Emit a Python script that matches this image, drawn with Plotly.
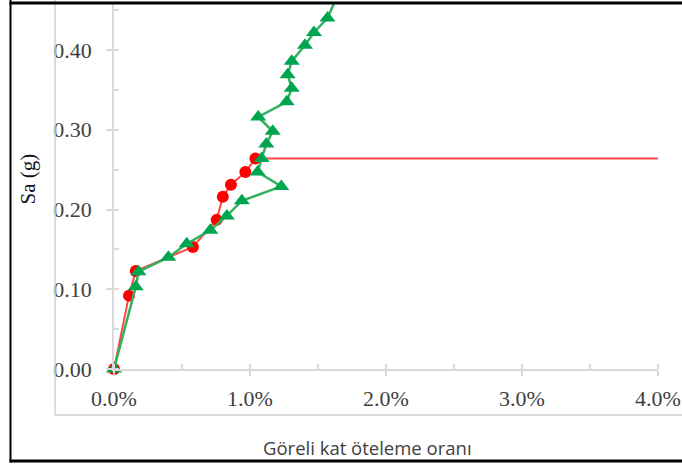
import plotly.graph_objects as go

# Data (drift ratio in %, Sa in g)
red_x = [0.0, 0.11, 0.16, 0.58, 0.755, 0.80, 0.86, 0.966, 1.04, 4.0]
red_y = [0.0, 0.092, 0.123, 0.153, 0.187, 0.216, 0.231, 0.247, 0.264, 0.264]

green_x = [0.0, 0.16, 0.18, 0.40, 0.535, 0.708, 0.83, 0.94, 1.23, 1.056, 1.086,
           1.12, 1.167, 1.06, 1.27, 1.307, 1.277, 1.307, 1.404, 1.47, 1.57, 1.66]
green_y = [0.0, 0.103, 0.122, 0.14, 0.157, 0.174, 0.192, 0.211, 0.229, 0.247, 0.264,
           0.282, 0.298, 0.316, 0.335, 0.352, 0.369, 0.386, 0.406, 0.422, 0.44, 0.475]

x_tick_vals = [0, 1, 2, 3, 4]
x_tick_text = ["0.0%", "1.0%", "2.0%", "3.0%", "4.0%"]
y_tick_vals = [0.0, 0.1, 0.2, 0.3, 0.4]

W, H = 682, 466
L, R, T, B = 114, 658, 2, 369
Y_MAX = 0.4602


def px(xp):
    return (xp - L) / (R - L)


def py(yp):
    return (B - yp) / (B - T)


fig = go.Figure()

red_sizes = [12] * (len(red_x) - 1) + [0]
fig.add_trace(go.Scatter(
    x=red_x, y=red_y, mode="lines+markers",
    line=dict(color="#ff4545", width=2),
    marker=dict(symbol="circle", size=red_sizes, color="#ff0000", opacity=1,
                line=dict(width=0)),
    cliponaxis=False, showlegend=False))

green_sizes = [14] * (len(green_x) - 1) + [0]
fig.add_trace(go.Scatter(
    x=green_x, y=green_y, mode="lines+markers",
    line=dict(color="#33b062", width=2.5),
    marker=dict(symbol="triangle-up", size=green_sizes, color="#00a64f", opacity=1,
                line=dict(width=0)),
    cliponaxis=False, showlegend=False))

tick_font = dict(family="Liberation Serif, Times New Roman, serif", size=22, color="#404040")

fig.update_xaxes(
    range=[0, 4], showgrid=False, zeroline=False,
    showline=True, linecolor="#d9d9d9", linewidth=1.5,
    tickvals=x_tick_vals, ticktext=x_tick_text,
    ticks="outside", ticklen=5, tickcolor="#d9d9d9", tickwidth=1.5,
    minor=dict(ticks="inside", ticklen=5, dtick=0.5, tick0=0, tickcolor="#d9d9d9", tickwidth=1.5, showgrid=False),
    tickfont=tick_font, ticklabelstandoff=4)

fig.update_yaxes(
    range=[0, Y_MAX], showgrid=False, zeroline=False,
    showline=True, linecolor="#d9d9d9", linewidth=1.5,
    tickvals=y_tick_vals, tickformat=".2f",
    ticks="outside", ticklen=6, tickcolor="#d9d9d9", tickwidth=1.5,
    minor=dict(ticks="inside", ticklen=5, dtick=0.05, tick0=0, tickcolor="#d9d9d9", tickwidth=1.5, showgrid=False),
    tickfont=tick_font, ticklabelstandoff=10)

shapes = [
    # grey chart border (left + bottom)
    dict(type="line", xref="paper", yref="paper", x0=px(55), x1=px(55), y0=py(0), y1=py(415),
         line=dict(color="#d0d0d0", width=1.5)),
    dict(type="line", xref="paper", yref="paper", x0=px(55), x1=px(690), y0=py(415), y1=py(415),
         line=dict(color="#d0d0d0", width=1.5)),
    # black frame (left, top, bottom)
    dict(type="rect", xref="paper", yref="paper", x0=px(9.5), x1=px(11.5), y0=py(0), y1=py(462.5),
         line=dict(width=0), fillcolor="black"),
    dict(type="rect", xref="paper", yref="paper", x0=px(9.5), x1=px(690), y0=py(1.5), y1=py(4.5),
         line=dict(width=0), fillcolor="black", layer="above"),
    dict(type="rect", xref="paper", yref="paper", x0=px(9.5), x1=px(690), y0=py(459.5), y1=py(462.5),
         line=dict(width=0), fillcolor="black"),
]

annotations = [
    dict(text="Sa (g)", xref="paper", yref="paper", x=px(27.5), y=py(179),
         showarrow=False, textangle=-90, xanchor="center", yanchor="middle",
         font=dict(family="Liberation Serif, Times New Roman, serif", size=21, color="#111122")),
    dict(text="Göreli kat öteleme oranı", xref="paper", yref="paper", x=px(367), y=py(447),
         showarrow=False, xanchor="center", yanchor="middle",
         font=dict(family="Open Sans, Noto Sans, sans-serif", size=18.5, color="#404040")),
]

fig.update_layout(
    width=W, height=H,
    margin=dict(l=L, r=W - R, t=T, b=H - B),
    paper_bgcolor="white", plot_bgcolor="white",
    shapes=shapes, annotations=annotations,
)

fig.write_html("out.html", config={"displayModeBar": False},
               post_script="document.body.style.margin='0';document.body.style.overflow='hidden';")
